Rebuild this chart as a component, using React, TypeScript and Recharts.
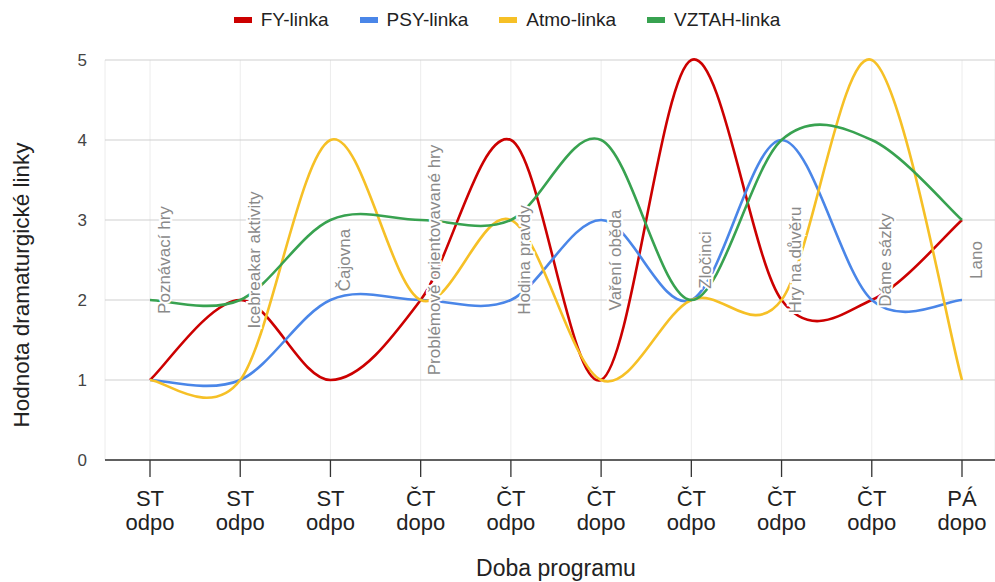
import { LineChart, Line, XAxis, YAxis, CartesianGrid, ReferenceDot } from 'recharts';

const days = ['ST', 'ST', 'ST', 'ČT', 'ČT', 'ČT', 'ČT', 'ČT', 'ČT', 'PÁ'];
const parts = ['odpo', 'odpo', 'odpo', 'dopo', 'odpo', 'dopo', 'odpo', 'odpo', 'odpo', 'dopo'];
const activities = [
  'Poznávací hry',
  'Icebreakar aktivity',
  'Čajovna',
  'Problémově orientovavané hry',
  'Hodina pravdy',
  'Vaření oběda',
  'Zločinci',
  'Hry na důvěru',
  'Dáme sázky',
  'Lano',
];

const fy = [1, 2, 1, 2, 4, 1, 5, 2, 2, 3];
const psy = [1, 1, 2, 2, 2, 3, 2, 4, 2, 2];
const atmo = [1, 1, 4, 2, 3, 1, 2, 2, 5, 1];
const vztah = [2, 2, 3, 3, 3, 4, 2, 4, 4, 3];

const yTicks = [0, 1, 2, 3, 4, 5];
// annotations sit in the middle of the value range
const ANNOT_Y = 2.5;

const SERIES = [
  { key: 'fy', name: 'FY-linka', color: '#cc0000' },
  { key: 'psy', name: 'PSY-linka', color: '#4a86e8' },
  { key: 'atmo', name: 'Atmo-linka', color: '#f6c026' },
  { key: 'vztah', name: 'VZTAH-linka', color: '#38a250' },
];

const data = days.map((d, i) => ({
  slot: i,
  fy: fy[i],
  psy: psy[i],
  atmo: atmo[i],
  vztah: vztah[i],
}));

const FONT = "Arial, 'Liberation Sans', sans-serif";

// Catmull-Rom style curve (like Google's curveType: 'function'), end points duplicated
const smoothCurve = (context: any) => {
  let xs: number[] = [];
  let ys: number[] = [];
  return {
    areaStart() {},
    areaEnd() {},
    lineStart() {
      xs = [];
      ys = [];
    },
    point(x: number, y: number) {
      xs.push(+x);
      ys.push(+y);
    },
    lineEnd() {
      const n = xs.length;
      if (!n) return;
      context.moveTo(xs[0], ys[0]);
      for (let i = 0; i < n - 1; i++) {
        const a = Math.max(i - 1, 0);
        const b = Math.min(i + 2, n - 1);
        context.bezierCurveTo(
          xs[i] + (xs[i + 1] - xs[a]) / 6,
          ys[i] + (ys[i + 1] - ys[a]) / 6,
          xs[i + 1] - (xs[b] - xs[i]) / 6,
          ys[i + 1] - (ys[b] - ys[i]) / 6,
          xs[i + 1],
          ys[i + 1]
        );
      }
    },
  };
};

const XTick = ({ x, y, payload }: any) => {
  const i = payload.value;
  return (
    <g>
      <line x1={x} x2={x} y1={y - 8} y2={y + 9} stroke="#333" strokeWidth={1.3} />
      <text x={x} y={y} textAnchor="middle" fontSize={22} fill="#222" fontFamily={FONT}>
        <tspan x={x} dy={38}>{days[i]}</tspan>
        <tspan x={x} dy={24}>{parts[i]}</tspan>
      </text>
    </g>
  );
};

const AnnotLabel = ({ viewBox, text }: any) => {
  const cx = viewBox.x + 14;
  const cy = viewBox.y;
  return (
    <text
      x={cx}
      y={cy}
      transform={`rotate(-90 ${cx} ${cy})`}
      textAnchor="middle"
      dominantBaseline="central"
      fontSize={17}
      fill="#8a8a8a"
      stroke="#fff"
      strokeWidth={4}
      paintOrder="stroke"
      fontFamily={FONT}
    >
      {text}
    </text>
  );
};

export default function App() {
  return (
    <div style={{ position: 'relative', width: 995, height: 582, background: '#fff', fontFamily: FONT }}>
      <style>{'body{margin:0}'}</style>

      {/* legend */}
      <div
        style={{
          position: 'absolute',
          top: 9,
          left: 0,
          width: 1014,
          display: 'flex',
          justifyContent: 'center',
          gap: 31,
          fontSize: 19,
          color: '#222',
        }}
      >
        {SERIES.map((s) => (
          <div key={s.key} style={{ display: 'flex', alignItems: 'center' }}>
            <span style={{ display: 'inline-block', width: 18, height: 6, background: s.color, marginRight: 9 }} />
            <span>{s.name}</span>
          </div>
        ))}
      </div>

      <LineChart width={995} height={582} data={data} margin={{ top: 60, right: 0, bottom: 42, left: 0 }}>
        <CartesianGrid horizontal={false} vertical={true} stroke="#ececec" />
        <CartesianGrid horizontal={true} vertical={false} stroke="#cfcfcf" />
        <XAxis
          dataKey="slot"
          type="number"
          domain={[0, 9]}
          ticks={data.map((d) => d.slot)}
          padding={{ left: 45, right: 33 }}
          height={80}
          tick={<XTick />}
          tickLine={false}
          axisLine={{ stroke: '#333', strokeWidth: 1.5 }}
          interval={0}
        />
        <YAxis
          domain={[0, 5]}
          ticks={yTicks}
          width={105}
          tickSize={0}
          tickMargin={18}
          axisLine={false}
          tickLine={false}
          tick={{ fontSize: 17, fill: '#444', fontFamily: FONT }}
        />
        {SERIES.map((s) => (
          <Line
            key={s.key}
            type={smoothCurve as any}
            dataKey={s.key}
            name={s.name}
            stroke={s.color}
            strokeWidth={2.6}
            dot={false}
            activeDot={false}
            isAnimationActive={false}
          />
        ))}
        {activities.map((a, i) => (
          <ReferenceDot
            key={a}
            x={i}
            y={ANNOT_Y}
            r={0}
            fill="none"
            stroke="none"
            label={<AnnotLabel text={a} />}
          />
        ))}
      </LineChart>

      {/* axis titles */}
      <div
        style={{
          position: 'absolute',
          left: 556,
          top: 555,
          transform: 'translateX(-50%)',
          fontSize: 23,
          color: '#222',
          whiteSpace: 'nowrap',
        }}
      >
        Doba programu
      </div>
      <div
        style={{
          position: 'absolute',
          left: 22,
          top: 285,
          transform: 'translate(-50%, -50%) rotate(-90deg)',
          fontSize: 22.5,
          color: '#222',
          whiteSpace: 'nowrap',
        }}
      >
        Hodnota dramaturgické linky
      </div>
    </div>
  );
}
